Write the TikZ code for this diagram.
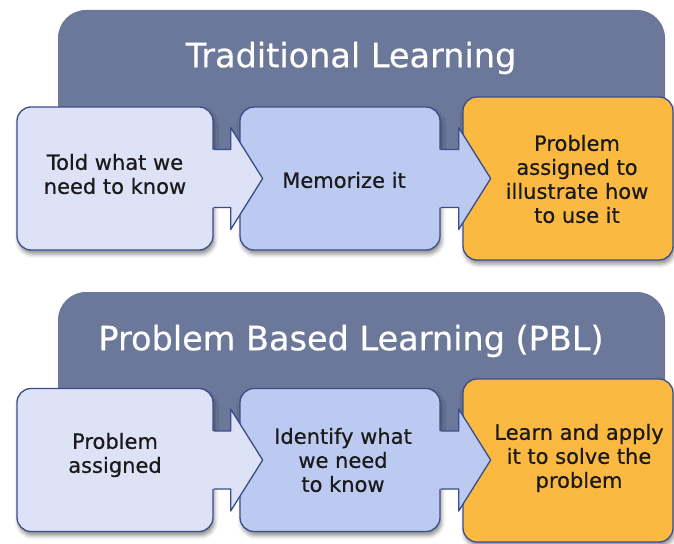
\documentclass[tikz,border=0pt]{standalone}
\usepackage{fontspec}
\setmainfont{DejaVu Sans}
\newfontfamily\lblfont{DejaVu Sans}[FakeBold=0.5]
\usetikzlibrary{shadows.blur}
\definecolor{hdr}{HTML}{6B7899}
\definecolor{cA}{HTML}{DDE2F6}
\definecolor{cB}{HTML}{BCC9F1}
\definecolor{cC}{HTML}{FCB941}
\definecolor{bord}{HTML}{3B4E8C}
\definecolor{txt}{HTML}{1A1A1A}
\begin{document}
\begin{tikzpicture}[x=1pt,y=-1pt,
  shad/.style={blur shadow={shadow xshift=1.5pt, shadow yshift=-4pt, shadow blur radius=4pt, shadow opacity=45}},
  hdrbox/.style={fill=hdr, draw=none, rounded corners=28pt, inner sep=0pt},
  title/.style={text=white, font=\lblfont\fontsize{33.5}{38}\selectfont},
  box/.style={draw=bord, line width=1.3pt, rounded corners=14pt, inner sep=0pt, shad},
  lbl/.style={align=center, font=\lblfont\fontsize{21}{24}\selectfont, text=txt, inner sep=0pt},
  arrline/.style={draw=bord, line width=1.3pt, line join=round},
  ashad/.style={fill=black, fill opacity=0.09}
]
\useasboundingbox (0,0) rectangle (674,543);

% ===== Traditional Learning =====
\node[hdrbox, minimum width=607pt, minimum height=150pt] (h1) at (361.5,85) {};
\node[title] (t1) at (351,58) {Traditional Learning};

\node[box, fill=cC, minimum width=210pt, minimum height=163pt] (c1) at (568,178.5) {};
\node[box, fill=cB, minimum width=200pt, minimum height=143pt] (b1) at (340,178.5) {};
\foreach \s in {(1,2.5),(1.5,4),(2,5.5)}
  \fill[ashad, shift={\s}] ([shift={(0.5,-29)}]b1.east) -- ++(18,0) -- ++(0,-22) -- ++(32,51)
  -- ++(-32,51) -- ++(0,-22) -- ++(-18,0) -- cycle;
\fill[cB] ([shift={(-1.5,-29)}]b1.east) -- ++(19.5,0) -- ++(0,-22) -- ++(32,51)
  -- ++(-32,51) -- ++(0,-22) -- ++(-19.5,0) -- cycle;
\draw[arrline] ([shift={(0,-29)}]b1.east) -- ++(18,0) -- ++(0,-22) -- ++(32,51)
  -- ++(-32,51) -- ++(0,-22) -- ++(-18,0);
\node[box, fill=cA, minimum width=196pt, minimum height=143pt] (a1) at (115,178.5) {};
\foreach \s in {(1,2.5),(1.5,4),(2,5.5)}
  \fill[ashad, shift={\s}] ([shift={(0.5,-29)}]a1.east) -- ++(17,0) -- ++(0,-22) -- ++(32,51)
  -- ++(-32,51) -- ++(0,-22) -- ++(-17,0) -- cycle;
\fill[cA] ([shift={(-1.5,-29)}]a1.east) -- ++(18.5,0) -- ++(0,-22) -- ++(32,51)
  -- ++(-32,51) -- ++(0,-22) -- ++(-18.5,0) -- cycle;
\draw[arrline] ([shift={(0,-29)}]a1.east) -- ++(17,0) -- ++(0,-22) -- ++(32,51)
  -- ++(-32,51) -- ++(0,-22) -- ++(-17,0);

\node[lbl] (a1t) at (115,174) {Told what we\\need to know};
\node[lbl] (b1t) at (344,180) {Memorize it};
\node[lbl] (c1t) at (577,179) {Problem\\assigned to\\illustrate how\\to use it};

% ===== Problem Based Learning =====
\node[hdrbox, minimum width=607pt, minimum height=150pt] (h2) at (361.5,367) {};
\node[title] (t2) at (351,341) {Problem Based Learning (PBL)};

\node[box, fill=cC, minimum width=210pt, minimum height=163pt] (c2) at (568,460.5) {};
\node[box, fill=cB, minimum width=200pt, minimum height=143pt] (b2) at (340,460) {};
\foreach \s in {(1,2.5),(1.5,4),(2,5.5)}
  \fill[ashad, shift={\s}] ([shift={(0.5,-29)}]b2.east) -- ++(18,0) -- ++(0,-22) -- ++(32,51)
  -- ++(-32,51) -- ++(0,-22) -- ++(-18,0) -- cycle;
\fill[cB] ([shift={(-1.5,-29)}]b2.east) -- ++(19.5,0) -- ++(0,-22) -- ++(32,51)
  -- ++(-32,51) -- ++(0,-22) -- ++(-19.5,0) -- cycle;
\draw[arrline] ([shift={(0,-29)}]b2.east) -- ++(18,0) -- ++(0,-22) -- ++(32,51)
  -- ++(-32,51) -- ++(0,-22) -- ++(-18,0);
\node[box, fill=cA, minimum width=196pt, minimum height=143pt] (a2) at (115,460) {};
\foreach \s in {(1,2.5),(1.5,4),(2,5.5)}
  \fill[ashad, shift={\s}] ([shift={(0.5,-29)}]a2.east) -- ++(17,0) -- ++(0,-22) -- ++(32,51)
  -- ++(-32,51) -- ++(0,-22) -- ++(-17,0) -- cycle;
\fill[cA] ([shift={(-1.5,-29)}]a2.east) -- ++(18.5,0) -- ++(0,-22) -- ++(32,51)
  -- ++(-32,51) -- ++(0,-22) -- ++(-18.5,0) -- cycle;
\draw[arrline] ([shift={(0,-29)}]a2.east) -- ++(17,0) -- ++(0,-22) -- ++(32,51)
  -- ++(-32,51) -- ++(0,-22) -- ++(-17,0);

\node[lbl] (a2t) at (115,455) {Problem\\assigned};
\node[lbl] (b2t) at (343,460) {Identify what\\we need\\to know};
\node[lbl] (c2t) at (579,458) {Learn and apply\\it to solve the\\problem};
\end{tikzpicture}
\end{document}
